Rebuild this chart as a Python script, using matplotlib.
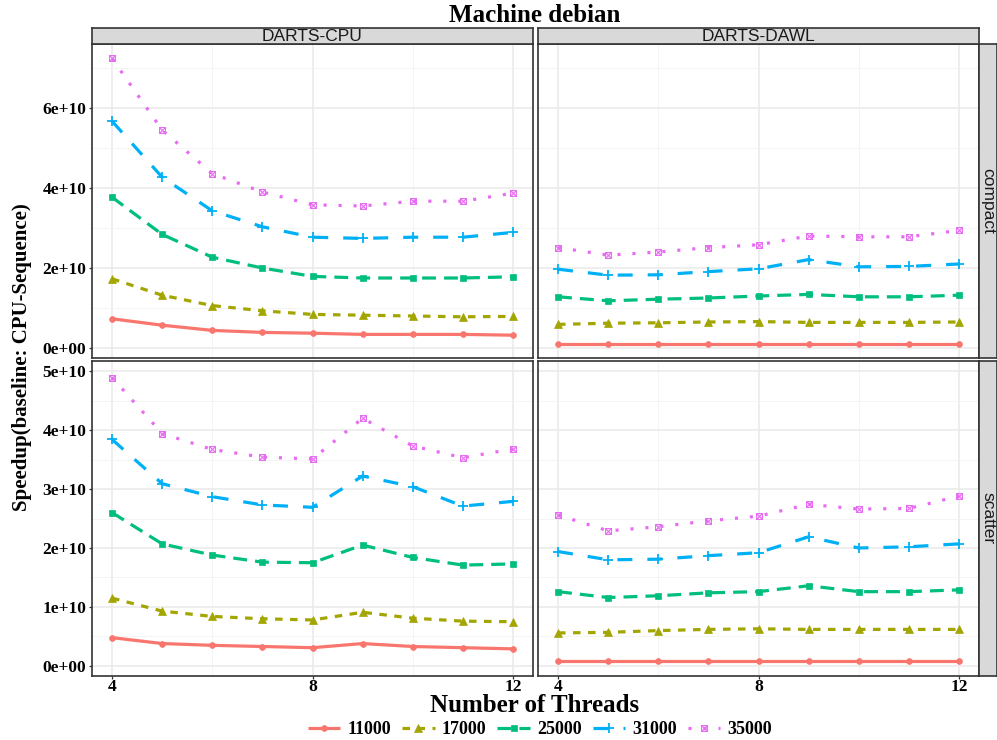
import matplotlib
matplotlib.use('Agg')
import matplotlib.pyplot as plt
from matplotlib.path import Path
from matplotlib.ticker import FixedLocator

plt.rcParams['lines.scale_dashes'] = False

# ---------------- data (values in units of 1e10) ----------------
threads = [4, 5, 6, 7, 8, 9, 10, 11, 12]
sizes = ['11000', '17000', '25000', '31000', '35000']
scale = 1e10

compact_cpu_11000 = [0.73, 0.57, 0.44, 0.39, 0.37, 0.34, 0.34, 0.34, 0.32]
compact_cpu_17000 = [1.73, 1.32, 1.06, 0.93, 0.84, 0.82, 0.80, 0.78, 0.79]
compact_cpu_25000 = [3.77, 2.84, 2.27, 2.00, 1.79, 1.75, 1.75, 1.75, 1.78]
compact_cpu_31000 = [5.67, 4.27, 3.43, 3.03, 2.77, 2.74, 2.77, 2.77, 2.89]
compact_cpu_35000 = [7.24, 5.45, 4.36, 3.90, 3.58, 3.55, 3.67, 3.67, 3.87]

compact_dawl_11000 = [0.09, 0.09, 0.09, 0.09, 0.09, 0.09, 0.09, 0.09, 0.09]
compact_dawl_17000 = [0.59, 0.62, 0.63, 0.65, 0.66, 0.64, 0.64, 0.64, 0.65]
compact_dawl_25000 = [1.28, 1.18, 1.22, 1.25, 1.30, 1.34, 1.28, 1.28, 1.32]
compact_dawl_31000 = [1.97, 1.82, 1.83, 1.91, 1.98, 2.21, 2.03, 2.04, 2.10]
compact_dawl_35000 = [2.51, 2.32, 2.40, 2.51, 2.58, 2.80, 2.78, 2.78, 2.94]

scatter_cpu_11000 = [0.48, 0.38, 0.35, 0.33, 0.31, 0.38, 0.33, 0.31, 0.29]
scatter_cpu_17000 = [1.15, 0.93, 0.84, 0.80, 0.78, 0.91, 0.81, 0.76, 0.75]
scatter_cpu_25000 = [2.60, 2.07, 1.88, 1.76, 1.75, 2.05, 1.84, 1.71, 1.73]
scatter_cpu_31000 = [3.84, 3.09, 2.87, 2.73, 2.69, 3.22, 3.04, 2.71, 2.79]
scatter_cpu_35000 = [4.89, 3.94, 3.67, 3.54, 3.51, 4.20, 3.73, 3.53, 3.68]

scatter_dawl_11000 = [0.08, 0.08, 0.08, 0.08, 0.08, 0.08, 0.08, 0.08, 0.08]
scatter_dawl_17000 = [0.56, 0.57, 0.60, 0.62, 0.63, 0.62, 0.62, 0.62, 0.62]
scatter_dawl_25000 = [1.26, 1.16, 1.19, 1.24, 1.26, 1.36, 1.26, 1.26, 1.29]
scatter_dawl_31000 = [1.94, 1.80, 1.81, 1.87, 1.92, 2.19, 2.00, 2.02, 2.07]
scatter_dawl_35000 = [2.56, 2.29, 2.36, 2.46, 2.54, 2.74, 2.66, 2.67, 2.88]

col_labels = ['DARTS-CPU', 'DARTS-DAWL']
row_labels = ['compact', 'scatter']
panel_data = {
    ('compact', 'DARTS-CPU'): [compact_cpu_11000, compact_cpu_17000, compact_cpu_25000,
                               compact_cpu_31000, compact_cpu_35000],
    ('compact', 'DARTS-DAWL'): [compact_dawl_11000, compact_dawl_17000, compact_dawl_25000,
                                compact_dawl_31000, compact_dawl_35000],
    ('scatter', 'DARTS-CPU'): [scatter_cpu_11000, scatter_cpu_17000, scatter_cpu_25000,
                               scatter_cpu_31000, scatter_cpu_35000],
    ('scatter', 'DARTS-DAWL'): [scatter_dawl_11000, scatter_dawl_17000, scatter_dawl_25000,
                                scatter_dawl_31000, scatter_dawl_35000],
}

# ---------------- styles ----------------
colors = ['#F8766D', '#A3A500', '#00BF7D', '#00B0F6', '#E76BF3']
boxx = Path([(-1, -1), (1, -1), (1, 1), (-1, 1), (-1, -1), (-1, -1), (1, 1), (-1, 1), (1, -1)],
            [Path.MOVETO, Path.LINETO, Path.LINETO, Path.LINETO, Path.CLOSEPOLY,
             Path.MOVETO, Path.LINETO, Path.MOVETO, Path.LINETO])
styles = [
    dict(ls='-', marker='o', ms=4.2, mew=0.5),
    dict(ls=(0, (5.4, 5.4)), marker='^', ms=5.6, mew=0.5),
    dict(ls=(0, (10.0, 5.8)), marker='s', ms=4.6, mew=0.5),
    dict(ls=(0, (10.8, 10.8)), marker='+', ms=7.5, mew=1.3),
    dict(ls=(0, (2.2, 8.6)), marker=boxx, ms=4.2, mew=0.8),
]

serif = 'Liberation Serif'
sans = 'Liberation Sans'
W, H = 997.0, 740.0
fig = plt.figure(figsize=(W / 100, H / 100), dpi=100)


def box(x0, y0, x1, y1):
    return [x0 / W, 1 - y1 / H, (x1 - x0) / W, (y1 - y0) / H]


col_x = [(92, 533), (538, 979)]
row_y = [(44, 358), (361, 676)]
ylims = {'compact': (-0.25e10, 7.6e10), 'scatter': (-0.17e10, 5.17e10)}
ymajor = {'compact': [0, 2e10, 4e10, 6e10], 'scatter': [0, 1e10, 2e10, 3e10, 4e10, 5e10]}
yminor = {'compact': [1e10, 3e10, 5e10, 7e10], 'scatter': [0.5e10, 1.5e10, 2.5e10, 3.5e10, 4.5e10]}
ylabels = {'compact': ['0e+00', '2e+10', '4e+10', '6e+10'],
           'scatter': ['0e+00', '1e+10', '2e+10', '3e+10', '4e+10', '5e+10']}

handles = []
for ri, rl in enumerate(row_labels):
    for ci, cl in enumerate(col_labels):
        x0, x1 = col_x[ci]
        y0, y1 = row_y[ri]
        ax = fig.add_axes(box(x0, y0, x1, y1))
        ax.set_xlim(3.6, 12.4)
        ax.set_ylim(*ylims[rl])
        ax.set_facecolor('white')
        # grid
        for v in [6, 10]:
            ax.axvline(v, color='#F2F2F2', lw=0.6, zorder=0)
        for v in [4, 8, 12]:
            ax.axvline(v, color='#EBEBEB', lw=1.2, zorder=0)
        for v in yminor[rl]:
            ax.axhline(v, color='#F2F2F2', lw=0.6, zorder=0)
        for v in ymajor[rl]:
            ax.axhline(v, color='#EBEBEB', lw=1.2, zorder=0)
        for k, s in enumerate(sizes):
            vals = [v * scale for v in panel_data[(rl, cl)][k]]
            st = styles[k]
            ln, = ax.plot(threads, vals, color=colors[k], lw=2.3, ls=st['ls'],
                          marker=st['marker'], ms=st['ms'], mew=st['mew'],
                          mfc=colors[k] if k != 4 else 'none', mec=colors[k],
                          dash_capstyle='butt', solid_capstyle='butt', label=s, zorder=3)
            if ri == 0 and ci == 0:
                handles.append(ln)
        for sp in ax.spines.values():
            sp.set_color('#333333')
            sp.set_linewidth(1.2)
        ax.xaxis.set_major_locator(FixedLocator([4, 8, 12]))
        ax.yaxis.set_major_locator(FixedLocator(ymajor[rl]))
        ax.tick_params(axis='y', length=2.5, width=0.9, color='#333333', pad=1.5)
        ax.tick_params(axis='x', length=2, width=0.9, color='#333333', pad=0.0)
        if ci == 0:
            ax.set_yticklabels(ylabels[rl], fontfamily=serif, fontweight='bold', fontsize=12.5)
        else:
            ax.tick_params(axis='y', length=0, labelleft=False)
        if ri == 1:
            ax.set_xticklabels(['4', '8', '12'], fontfamily=serif, fontweight='bold', fontsize=12.5)
        else:
            ax.tick_params(axis='x', length=0, labelbottom=False)

        # strips
        if ri == 0:
            sax = fig.add_axes(box(x0, 28, x1, 44))
            sax.set_facecolor('#D9D9D9')
            sax.set_xticks([]); sax.set_yticks([])
            for sp in sax.spines.values():
                sp.set_color('#333333'); sp.set_linewidth(1.2)
            sax.text(0.5, 0.45, cl, transform=sax.transAxes, ha='center', va='center',
                     fontfamily=sans, fontsize=12.5, color='#1A1A1A')
        if ci == 1:
            rax = fig.add_axes(box(979, y0, 996.5, y1))
            rax.set_facecolor('#D9D9D9')
            rax.set_xticks([]); rax.set_yticks([])
            for sp in rax.spines.values():
                sp.set_color('#333333'); sp.set_linewidth(1.2)
            rax.text(0.5, 0.5, rl, transform=rax.transAxes, ha='center', va='center',
                     rotation=-90, fontfamily=sans, fontsize=12.5, color='#1A1A1A')

fig.text(535 / W, 1 - 15 / H, 'Machine debian', ha='center', va='center',
         fontfamily=serif, fontweight='bold', fontsize=18)
fig.text(535 / W, 1 - 705 / H, 'Number of Threads', ha='center', va='center',
         fontfamily=serif, fontweight='bold', fontsize=18)
fig.text(22 / W, 1 - 357 / H, 'Speedup(baseline: CPU-Sequence)', ha='center', va='center',
         rotation=90, fontfamily=serif, fontweight='bold', fontsize=15)

leg = fig.legend(handles=handles, labels=sizes, loc='center', ncol=5,
                 bbox_to_anchor=(540 / W, 1 - 729.5 / H), frameon=False,
                 prop=dict(family=serif, weight='bold', size=13),
                 handlelength=1.8, handletextpad=0.4, columnspacing=0.6,
                 borderpad=0, borderaxespad=0)

fig.savefig('out.png', dpi=100)
